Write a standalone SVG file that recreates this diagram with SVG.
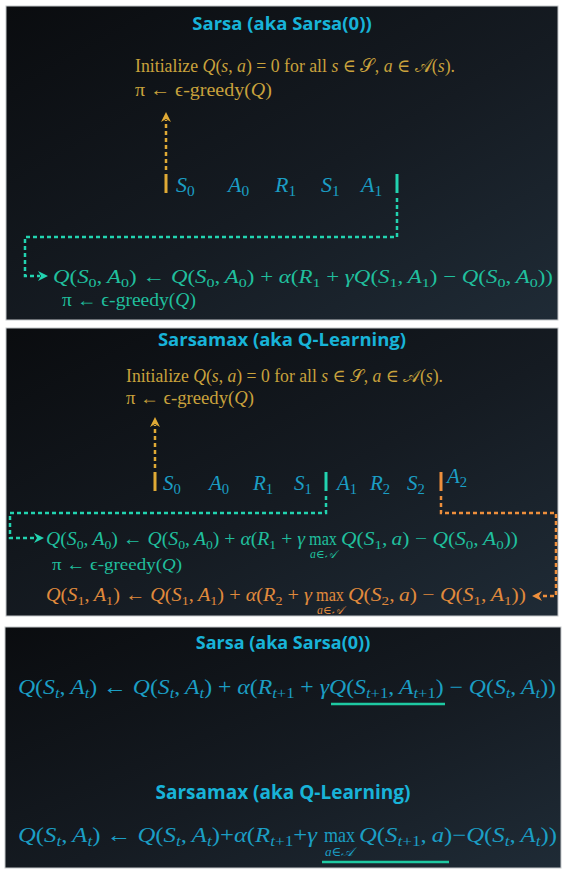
<svg xmlns="http://www.w3.org/2000/svg" width="567" height="876" viewBox="0 0 567 876">
<defs>
<linearGradient id="bg" x1="0" y1="0" x2="1" y2="1">
<stop offset="0" stop-color="#0a0c0f"/>
<stop offset="0.55" stop-color="#151b22"/>
<stop offset="1" stop-color="#1f2b36"/>
</linearGradient>
<marker id="aGold" viewBox="0 0 10 10" refX="2" refY="5" markerWidth="4" markerHeight="4" orient="auto" markerUnits="strokeWidth"><path d="M0,0 L10,5 L0,10 L3,5 Z" fill="#e0aa35"/></marker>
<marker id="aTeal" viewBox="0 0 10 10" refX="2" refY="5" markerWidth="4" markerHeight="4" orient="auto" markerUnits="strokeWidth"><path d="M0,0 L10,5 L0,10 L3,5 Z" fill="#22d3b0"/></marker>
<marker id="aOrange" viewBox="0 0 10 10" refX="2" refY="5" markerWidth="4" markerHeight="4" orient="auto" markerUnits="strokeWidth"><path d="M0,0 L10,5 L0,10 L3,5 Z" fill="#ee8f3c"/></marker>
</defs>
<style>
.panel{fill:url(#bg);stroke:#c4c7ca;stroke-width:1}
.title{font-family:"Open Sans","Liberation Sans",sans-serif;font-weight:bold;fill:#18b3d8;text-anchor:middle}
.m{font-family:"Liberation Serif","DejaVu Serif",serif}
.i{font-style:italic}
.n{font-style:normal}
.sb{font-size:70%}
.gold{fill:#c9a23c}
.blue{fill:#1b9ec4}
.teal{fill:#20bf9d}
.orange{fill:#e08a3c}
.dg{fill:none;stroke:#e0aa35;stroke-width:2.5;stroke-dasharray:4 3}
.dt{fill:none;stroke:#22d3b0;stroke-width:2.5;stroke-dasharray:4 3}
.do{fill:none;stroke:#ee8f3c;stroke-width:2.5;stroke-dasharray:4 3}
.bar{stroke-width:3}
.ul{stroke:#1ec9a2;stroke-width:2.5}
</style>
<rect width="567" height="876" fill="#ffffff"/>

<g id="panel1">
<rect class="panel" x="6" y="6" width="552" height="314"/>
<text class="title" x="282" y="30" font-size="18.5">Sarsa (aka Sarsa(0))</text>
<text class="m gold" x="135" y="72" font-size="18.5" textLength="320" lengthAdjust="spacingAndGlyphs">Initialize <tspan class="i">Q</tspan>(<tspan class="i">s</tspan>, <tspan class="i">a</tspan>) = 0 for all <tspan class="i">s</tspan> ∈ 𝒮, <tspan class="i">a</tspan> ∈ 𝒜(<tspan class="i">s</tspan>).</text>
<text class="m gold" x="135" y="96" font-size="18.5" textLength="137" lengthAdjust="spacingAndGlyphs">π ← ϵ-greedy(<tspan class="i">Q</tspan>)</text>
<g id="seq1" class="m blue i" font-size="22">
<text x="176" y="192">S<tspan class="sb n" dy="4">0</tspan></text>
<text x="228" y="192">A<tspan class="sb n" dy="4">0</tspan></text>
<text x="275" y="192">R<tspan class="sb n" dy="4">1</tspan></text>
<text x="321" y="192">S<tspan class="sb n" dy="4">1</tspan></text>
<text x="361" y="192">A<tspan class="sb n" dy="4">1</tspan></text>
</g>
<text class="m teal" x="53" y="283" font-size="19" textLength="500" lengthAdjust="spacingAndGlyphs"><tspan class="i">Q</tspan>(<tspan class="i">S</tspan><tspan class="sb" dy="4">0</tspan><tspan dy="-4">,&#8201;</tspan><tspan class="i">A</tspan><tspan class="sb" dy="4">0</tspan><tspan dy="-4">) ← </tspan><tspan class="i">Q</tspan>(<tspan class="i">S</tspan><tspan class="sb" dy="4">0</tspan><tspan dy="-4">,&#8201;</tspan><tspan class="i">A</tspan><tspan class="sb" dy="4">0</tspan><tspan dy="-4">) + </tspan><tspan class="i">α</tspan>(<tspan class="i">R</tspan><tspan class="sb" dy="4">1</tspan><tspan dy="-4"> + </tspan><tspan class="i">γQ</tspan>(<tspan class="i">S</tspan><tspan class="sb" dy="4">1</tspan><tspan dy="-4">,&#8201;</tspan><tspan class="i">A</tspan><tspan class="sb" dy="4">1</tspan><tspan dy="-4">) − </tspan><tspan class="i">Q</tspan>(<tspan class="i">S</tspan><tspan class="sb" dy="4">0</tspan><tspan dy="-4">,&#8201;</tspan><tspan class="i">A</tspan><tspan class="sb" dy="4">0</tspan><tspan dy="-4">))</tspan></text>
<text class="m teal" x="62" y="306" font-size="18" textLength="134" lengthAdjust="spacingAndGlyphs">π ← ϵ-greedy(<tspan class="i">Q</tspan>)</text>
</g>

<g id="panel2">
<rect class="panel" x="6" y="328" width="552" height="288"/>
<text class="title" x="282" y="346" font-size="18.5">Sarsamax (aka Q-Learning)</text>
<text class="m gold" x="126" y="382" font-size="18" textLength="317" lengthAdjust="spacingAndGlyphs">Initialize <tspan class="i">Q</tspan>(<tspan class="i">s</tspan>, <tspan class="i">a</tspan>) = 0 for all <tspan class="i">s</tspan> ∈ 𝒮, <tspan class="i">a</tspan> ∈ 𝒜(<tspan class="i">s</tspan>).</text>
<text class="m gold" x="126" y="404" font-size="18" textLength="128" lengthAdjust="spacingAndGlyphs">π ← ϵ-greedy(<tspan class="i">Q</tspan>)</text>
<g id="seq2" class="m blue i" font-size="21">
<text x="163" y="490">S<tspan class="sb n" dy="4">0</tspan></text>
<text x="209" y="490">A<tspan class="sb n" dy="4">0</tspan></text>
<text x="253" y="490">R<tspan class="sb n" dy="4">1</tspan></text>
<text x="294" y="490">S<tspan class="sb n" dy="4">1</tspan></text>
<text x="337" y="490">A<tspan class="sb n" dy="4">1</tspan></text>
<text x="370" y="490">R<tspan class="sb n" dy="4">2</tspan></text>
<text x="407" y="490">S<tspan class="sb n" dy="4">2</tspan></text>
<text x="447" y="483">A<tspan class="sb n" dy="4">2</tspan></text>
</g>
<text class="m teal" x="46" y="545" font-size="18.5" textLength="259" lengthAdjust="spacingAndGlyphs"><tspan class="i">Q</tspan>(<tspan class="i">S</tspan><tspan class="sb" dy="4">0</tspan><tspan dy="-4">,&#8201;</tspan><tspan class="i">A</tspan><tspan class="sb" dy="4">0</tspan><tspan dy="-4">) ← </tspan><tspan class="i">Q</tspan>(<tspan class="i">S</tspan><tspan class="sb" dy="4">0</tspan><tspan dy="-4">,&#8201;</tspan><tspan class="i">A</tspan><tspan class="sb" dy="4">0</tspan><tspan dy="-4">) + </tspan><tspan class="i">α</tspan>(<tspan class="i">R</tspan><tspan class="sb" dy="4">1</tspan><tspan dy="-4"> + </tspan><tspan class="i">γ</tspan></text>
<text class="m teal" x="309" y="545" font-size="18.5" textLength="28" lengthAdjust="spacingAndGlyphs">max</text>
<text class="m teal i" x="310" y="558" font-size="11.5" textLength="26" lengthAdjust="spacingAndGlyphs">a<tspan class="n">∈</tspan>𝒜</text>
<text class="m teal" x="341" y="545" font-size="18.5" textLength="177" lengthAdjust="spacingAndGlyphs"><tspan class="i">Q</tspan>(<tspan class="i">S</tspan><tspan class="sb" dy="4">1</tspan><tspan dy="-4">,&#8201;</tspan><tspan class="i">a</tspan>) − <tspan class="i">Q</tspan>(<tspan class="i">S</tspan><tspan class="sb" dy="4">0</tspan><tspan dy="-4">,&#8201;</tspan><tspan class="i">A</tspan><tspan class="sb" dy="4">0</tspan><tspan dy="-4">))</tspan></text>
<text class="m teal" x="52" y="570" font-size="17.5" textLength="130" lengthAdjust="spacingAndGlyphs">π ← ϵ-greedy(<tspan class="i">Q</tspan>)</text>
<text class="m orange" x="46" y="601" font-size="18.5" textLength="266" lengthAdjust="spacingAndGlyphs"><tspan class="i">Q</tspan>(<tspan class="i">S</tspan><tspan class="sb" dy="4">1</tspan><tspan dy="-4">,&#8201;</tspan><tspan class="i">A</tspan><tspan class="sb" dy="4">1</tspan><tspan dy="-4">) ← </tspan><tspan class="i">Q</tspan>(<tspan class="i">S</tspan><tspan class="sb" dy="4">1</tspan><tspan dy="-4">,&#8201;</tspan><tspan class="i">A</tspan><tspan class="sb" dy="4">1</tspan><tspan dy="-4">) + </tspan><tspan class="i">α</tspan>(<tspan class="i">R</tspan><tspan class="sb" dy="4">2</tspan><tspan dy="-4"> + </tspan><tspan class="i">γ</tspan></text>
<text class="m orange" x="316" y="601" font-size="18.5" textLength="28" lengthAdjust="spacingAndGlyphs">max</text>
<text class="m orange i" x="317" y="614" font-size="11.5" textLength="26" lengthAdjust="spacingAndGlyphs">a<tspan class="n">∈</tspan>𝒜</text>
<text class="m orange" x="348" y="601" font-size="18.5" textLength="178" lengthAdjust="spacingAndGlyphs"><tspan class="i">Q</tspan>(<tspan class="i">S</tspan><tspan class="sb" dy="4">2</tspan><tspan dy="-4">,&#8201;</tspan><tspan class="i">a</tspan>) − <tspan class="i">Q</tspan>(<tspan class="i">S</tspan><tspan class="sb" dy="4">1</tspan><tspan dy="-4">,&#8201;</tspan><tspan class="i">A</tspan><tspan class="sb" dy="4">1</tspan><tspan dy="-4">))</tspan></text>
</g>

<g id="panel3">
<rect class="panel" x="5" y="627" width="556" height="241"/>
<text class="title" x="283" y="649" font-size="18">Sarsa (aka Sarsa(0))</text>
<text class="m blue" x="18" y="694" font-size="21" textLength="538" lengthAdjust="spacingAndGlyphs"><tspan class="i">Q</tspan>(<tspan class="i">S</tspan><tspan class="sb i" dy="4">t</tspan><tspan dy="-4">,&#8201;</tspan><tspan class="i">A</tspan><tspan class="sb i" dy="4">t</tspan><tspan dy="-4">) ← </tspan><tspan class="i">Q</tspan>(<tspan class="i">S</tspan><tspan class="sb i" dy="4">t</tspan><tspan dy="-4">,&#8201;</tspan><tspan class="i">A</tspan><tspan class="sb i" dy="4">t</tspan><tspan dy="-4">) + </tspan><tspan class="i">α</tspan>(<tspan class="i">R</tspan><tspan class="sb" dy="4"><tspan class="i">t</tspan>+1</tspan><tspan dy="-4"> + </tspan><tspan class="i">γQ</tspan>(<tspan class="i">S</tspan><tspan class="sb" dy="4"><tspan class="i">t</tspan>+1</tspan><tspan dy="-4">,&#8201;</tspan><tspan class="i">A</tspan><tspan class="sb" dy="4"><tspan class="i">t</tspan>+1</tspan><tspan dy="-4">) − </tspan><tspan class="i">Q</tspan>(<tspan class="i">S</tspan><tspan class="sb i" dy="4">t</tspan><tspan dy="-4">,&#8201;</tspan><tspan class="i">A</tspan><tspan class="sb i" dy="4">t</tspan><tspan dy="-4">))</tspan></text>
<line class="ul" x1="331" y1="704" x2="445" y2="704"/>
<text class="title" x="283" y="799" font-size="19">Sarsamax (aka Q-Learning)</text>
<text class="m blue" x="18" y="842" font-size="21" textLength="299" lengthAdjust="spacingAndGlyphs"><tspan class="i">Q</tspan>(<tspan class="i">S</tspan><tspan class="sb i" dy="4">t</tspan><tspan dy="-4">,&#8201;</tspan><tspan class="i">A</tspan><tspan class="sb i" dy="4">t</tspan><tspan dy="-4">) ← </tspan><tspan class="i">Q</tspan>(<tspan class="i">S</tspan><tspan class="sb i" dy="4">t</tspan><tspan dy="-4">,&#8201;</tspan><tspan class="i">A</tspan><tspan class="sb i" dy="4">t</tspan><tspan dy="-4">)+</tspan><tspan class="i">α</tspan>(<tspan class="i">R</tspan><tspan class="sb" dy="4"><tspan class="i">t</tspan>+1</tspan><tspan dy="-4">+</tspan><tspan class="i">γ</tspan></text>
<text class="m blue" x="324" y="842" font-size="21" textLength="31" lengthAdjust="spacingAndGlyphs">max</text>
<text class="m blue i" x="325" y="856" font-size="12.5" textLength="29" lengthAdjust="spacingAndGlyphs">a<tspan class="n">∈</tspan>𝒜</text>
<text class="m blue" x="359" y="842" font-size="21" textLength="198" lengthAdjust="spacingAndGlyphs"><tspan class="i">Q</tspan>(<tspan class="i">S</tspan><tspan class="sb" dy="4"><tspan class="i">t</tspan>+1</tspan><tspan dy="-4">,&#8201;</tspan><tspan class="i">a</tspan>)−<tspan class="i">Q</tspan>(<tspan class="i">S</tspan><tspan class="sb i" dy="4">t</tspan><tspan dy="-4">,&#8201;</tspan><tspan class="i">A</tspan><tspan class="sb i" dy="4">t</tspan><tspan dy="-4">))</tspan></text>
<line class="ul" x1="322" y1="862" x2="449" y2="862"/>
</g>

<g id="connectors">
<line class="bar" x1="166" y1="174" x2="166" y2="193" stroke="#e0aa35"/>
<line class="bar" x1="397" y1="174" x2="397" y2="193" stroke="#22d3b0"/>
<path class="dg" d="M166,170 V120" marker-end="url(#aGold)"/>
<path class="dt" d="M397,198 V237 H25 V276 H40" marker-end="url(#aTeal)"/>
<line class="bar" x1="155" y1="472" x2="155" y2="491" stroke="#e0aa35"/>
<line class="bar" x1="326" y1="472" x2="326" y2="491" stroke="#22d3b0"/>
<line class="bar" x1="441" y1="472" x2="441" y2="491" stroke="#ee8f3c"/>
<path class="dg" d="M155,468 V425" marker-end="url(#aGold)"/>
<path class="dt" d="M326,496 V513 H10 V538 H36" marker-end="url(#aTeal)"/>
<path class="do" d="M441,496 V513 H556 V596 H540" marker-end="url(#aOrange)"/>
</g>
</svg>
